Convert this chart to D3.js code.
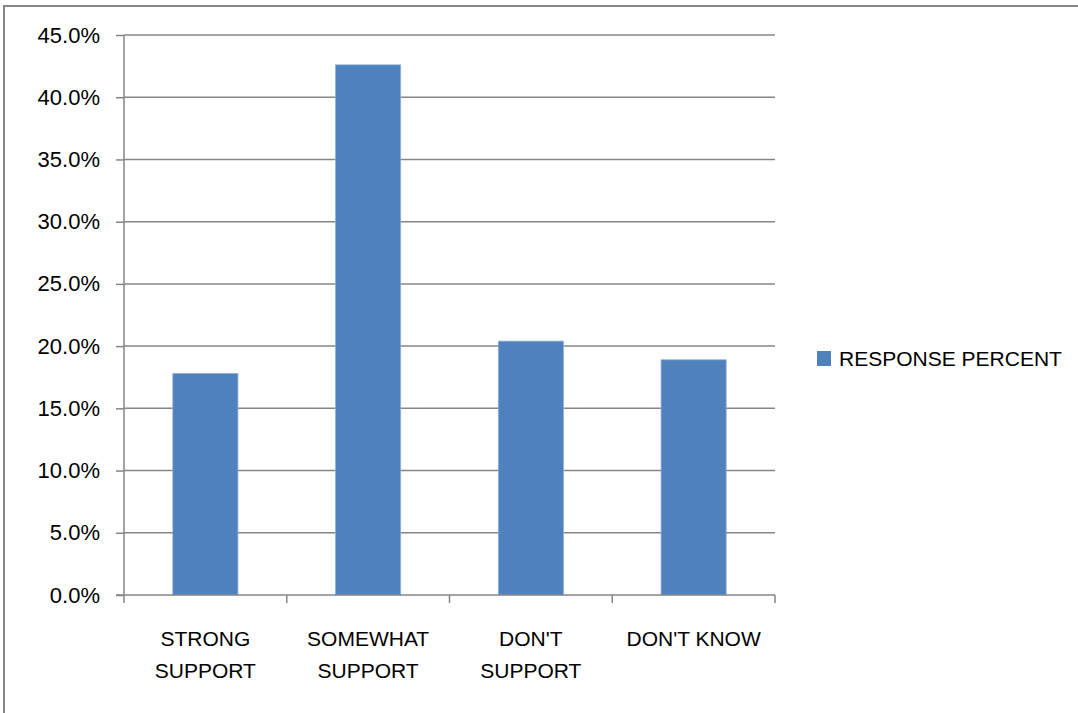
<!DOCTYPE html>
<html>
<head>
    <meta charset="utf-8" />
    <title>Response percent</title>
    <style>
        body { margin: 0; background: #fff; }
        svg text { font-family: "Liberation Sans", "DejaVu Sans", sans-serif; fill: #000; }
        .axis path, .axis line { stroke: #868686; }
        .grid line { stroke: #868686; stroke-width: 1.5; }
    </style>
</head>
<body>
    <script src="https://cdn.jsdelivr.net/npm/d3@7/dist/d3.min.js"></script>
    <script>
    var categories = ["STRONG SUPPORT", "SOMEWHAT SUPPORT", "DON'T SUPPORT", "DON'T KNOW"];
    var responsePercent = [17.8, 42.6, 20.4, 18.9];
    var yTicks = [0, 5, 10, 15, 20, 25, 30, 35, 40, 45];
    var seriesName = "RESPONSE PERCENT";

    var width = 1078,
        height = 713,
        plotLeft = 124,
        plotRight = 775,
        plotTop = 35,
        plotBottom = 595,
        barColor = "#4f81bd";

    var x = d3.scaleBand()
        .domain(categories)
        .range([plotLeft, plotRight])
        .paddingInner(0.6)
        .paddingOuter(0.3);

    var y = d3.scaleLinear()
        .domain([0, 45])
        .range([plotBottom, plotTop]);

    var svg = d3.select("body").append("svg")
        .attr("width", width)
        .attr("height", height);

    // outer frame (only top and left show in the picture)
    svg.append("rect")
        .attr("x", 4)
        .attr("y", 6)
        .attr("width", width + 10)
        .attr("height", height + 10)
        .attr("fill", "none")
        .attr("stroke", "#868686")
        .attr("stroke-width", 2);

    // gridlines
    svg.append("g")
        .attr("class", "grid")
        .selectAll("line")
        .data(yTicks.filter(function(d){ return d > 0; }))
        .enter().append("line")
        .attr("x1", plotLeft)
        .attr("x2", plotRight)
        .attr("y1", function(d){ return y(d); })
        .attr("y2", function(d){ return y(d); });

    // bars
    svg.selectAll("rect.bar")
        .data(responsePercent)
        .enter().append("rect")
        .attr("class", "bar")
        .attr("x", function(d, i){ return x(categories[i]); })
        .attr("width", x.bandwidth())
        .attr("y", function(d){ return y(d); })
        .attr("height", function(d){ return y(0) - y(d); })
        .attr("fill", barColor)
        .attr("stroke", "#8eaedb")
        .attr("stroke-width", 0.8);

    // y axis
    var yAxis = d3.axisLeft(y)
        .tickValues(yTicks)
        .tickSize(8)
        .tickPadding(16)
        .tickFormat(function(d){ return d.toFixed(1) + "%"; });

    svg.append("g")
        .attr("class", "axis")
        .attr("transform", "translate(" + plotLeft + ",0)")
        .call(yAxis)
        .call(function(g){
            g.select(".domain").attr("d", "M0," + plotTop + "V" + plotBottom).attr("stroke-width", 1.5);
            g.selectAll(".tick line").attr("stroke-width", 1.5);
            g.selectAll("text").style("font-size", "22px");
        });

    // x axis: ticks at band edges
    var step = (plotRight - plotLeft) / categories.length;
    var xEdges = d3.range(categories.length + 1).map(function(i){ return plotLeft + i * step; });

    var xg = svg.append("g").attr("class", "axis");
    xg.append("line")
        .attr("x1", plotLeft - 8).attr("x2", plotRight)
        .attr("y1", plotBottom).attr("y2", plotBottom)
        .attr("stroke-width", 1.5);
    xg.selectAll("line.tick")
        .data(xEdges)
        .enter().append("line")
        .attr("class", "tick")
        .attr("x1", function(d){ return d; })
        .attr("x2", function(d){ return d; })
        .attr("y1", plotBottom)
        .attr("y2", plotBottom + 8)
        .attr("stroke-width", 1.5);

    // category labels, wrapped to the band width
    var labels = svg.append("g").selectAll("text")
        .data(categories)
        .enter().append("text")
        .attr("text-anchor", "middle")
        .attr("x", function(d){ return x(d) + x.bandwidth() / 2; })
        .attr("y", 646)
        .style("font-size", "21px");

    labels.each(function(d){
        var t = d3.select(this);
        t.text(d);
        if (this.getComputedTextLength() > step - 8) {
            t.text(null);
            d.split(" ").forEach(function(w, i){
                t.append("tspan")
                    .attr("x", t.attr("x"))
                    .attr("dy", i === 0 ? 0 : 32)
                    .text(w);
            });
        }
    });

    // legend
    var legend = svg.append("g").attr("transform", "translate(817,351)");
    legend.append("rect")
        .attr("width", 14)
        .attr("height", 15)
        .attr("fill", barColor);
    legend.append("text")
        .attr("x", 22)
        .attr("y", 15)
        .style("font-size", "21px")
        .text(seriesName);
    </script>
</body>
</html>
